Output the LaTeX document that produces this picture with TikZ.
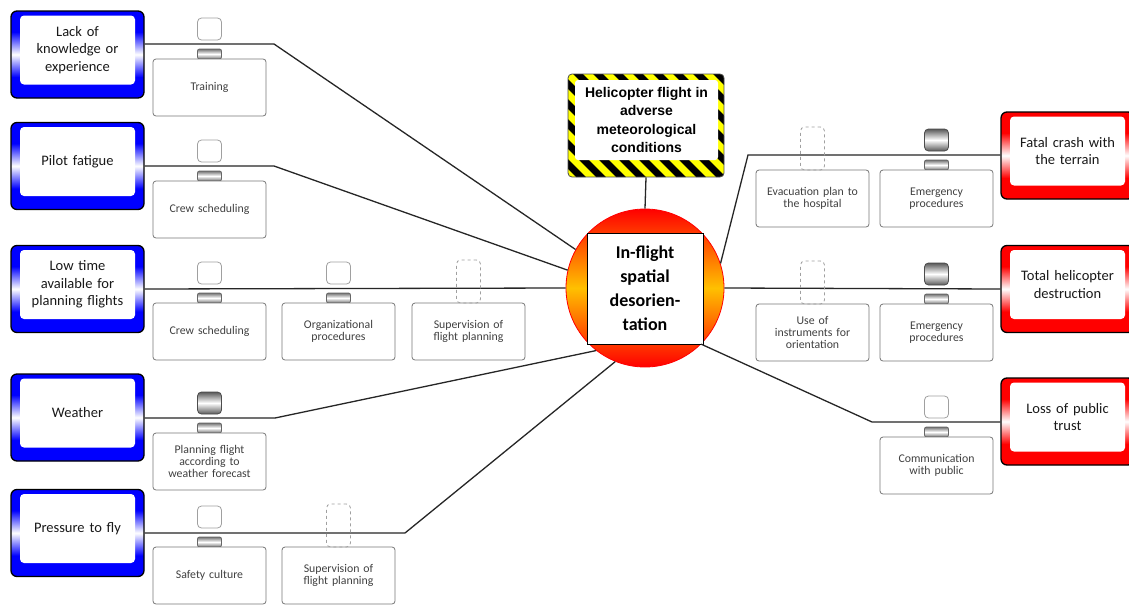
\documentclass[tikz,border=0pt]{standalone}
\usepackage{fontspec}
\setmainfont{Carlito}
\newfontfamily\hazfont{Liberation Sans}
\usetikzlibrary{calc}
\definecolor{thrblue}{RGB}{0,0,255}
\definecolor{conred}{RGB}{255,0,0}
\definecolor{hazyel}{RGB}{255,255,0}
\definecolor{ctrorange}{RGB}{255,192,0}
\definecolor{bgray}{RGB}{120,120,120}
\definecolor{igray}{RGB}{160,160,160}
\definecolor{tgray}{RGB}{64,64,64}
\pgfdeclareverticalshading{bluefr}{100bp}{color(0bp)=(thrblue); color(25bp)=(thrblue); color(37bp)=(thrblue); color(50bp)=(white); color(63bp)=(thrblue); color(75bp)=(thrblue); color(100bp)=(thrblue)}
\pgfdeclareverticalshading{redfr}{100bp}{color(0bp)=(conred); color(25bp)=(conred); color(37bp)=(conred); color(50bp)=(white); color(63bp)=(conred); color(75bp)=(conred); color(100bp)=(conred)}
\tikzset{
 link/.style={draw=black!85, line width=1.3pt},
 outerbox/.style={draw=black, line width=1.3pt, rounded corners=6pt, minimum width=133pt, minimum height=87pt, inner sep=0pt},
 innerbox/.style={fill=white, rounded corners=4pt, minimum width=115pt, minimum height=69pt, align=center, text width=112pt, inner sep=0pt, font=\fontsize{14.5}{17.5}\selectfont, text=black!90},
 barbox/.style={draw=bgray, fill=white, line width=0.8pt, rounded corners=3pt, minimum width=113pt, minimum height=57pt, align=center, inner sep=0pt, text width=110pt, text=tgray, font=\fontsize{11.8}{12}\selectfont},
 indw/.style={draw=igray, fill=white, line width=0.8pt, rounded corners=4pt, minimum width=24pt, minimum height=22pt, inner sep=0pt},
 indd/.style={draw=black!70, line width=0.8pt, rounded corners=4pt, minimum width=24pt, minimum height=22pt, inner sep=0pt, top color=black!65, bottom color=black!65, middle color=white},
 indx/.style={draw=igray, dashed, line width=0.8pt, rounded corners=4pt, minimum width=24pt, minimum height=43pt, inner sep=0pt},
 handle/.style={draw=black!60, line width=0.8pt, rounded corners=2pt, minimum width=24pt, minimum height=10pt, inner sep=0pt, top color=black!55, bottom color=black!55, middle color=white},
 centre/.style={circle, draw=red, line width=0.8pt, minimum size=158pt, inner sep=0pt, top color=conred, bottom color=conred, middle color=ctrorange},
 centrein/.style={draw=black, fill=white, line width=0.8pt, minimum width=116pt, minimum height=111pt, inner sep=0pt, align=center, font=\fontsize{18}{24}\selectfont\bfseries},
 hazout/.style={draw=black!70, line width=0.8pt, rounded corners=4pt, minimum width=156pt, minimum height=103pt, inner sep=0pt},
 hazin/.style={fill=white, rounded corners=3pt, minimum width=143pt, minimum height=80pt, inner sep=0pt, align=center, font=\hazfont\bfseries\fontsize{14}{18.3}\selectfont},
}
\newcommand{\riskbox}[5]{%
  \node[outerbox, shading=#4] (#1) at (#2,#3) {};
  \node[innerbox] (#1i) at ([yshift=4.5pt]#1.center) {#5};
}
\newcommand{\barw}[4]{%
  \node[indw] (#1t) at ({#2},{#3-15}) {};
  \node[handle] (#1h) at ({#2},{#3+10}) {};
  \node[barbox] (#1) at ({#2},{#3+43.5}) {#4};
}
\newcommand{\bard}[4]{%
  \node[indd] (#1t) at ({#2},{#3-15}) {};
  \node[handle] (#1h) at ({#2},{#3+10}) {};
  \node[barbox] (#1) at ({#2},{#3+43.5}) {#4};
}
\newcommand{\barx}[4]{%
  \node[barbox] (#1) at ({#2},{#3+43.5}) {#4};
  \node[indx] (#1t) at ({#2},{#3-6.5}) {};
}
\begin{document}
\begin{tikzpicture}[x=1pt,y=-1pt]
\useasboundingbox (0,0) rectangle (1129,605);
\clip (0,0) rectangle (1129,605);
\fill[white] (0,0) rectangle (1129,605);

% threats
\riskbox{T1}{77.5}{54.5}{bluefr}{Lack of\\knowledge or\\experience}
\riskbox{T2}{77.5}{166}{bluefr}{Pilot fatigue}
\riskbox{T3}{77.5}{289}{bluefr}{Low time\\available for\\planning flights}
\riskbox{T4}{77.5}{417.5}{bluefr}{Weather}
\riskbox{T5}{77.5}{533}{bluefr}{Pressure to fly}
% consequences
\riskbox{C1}{1067.5}{155.5}{redfr}{Fatal crash with\\the terrain}
\riskbox{C2}{1067.5}{289}{redfr}{Total helicopter\\destruction}
\riskbox{C3}{1067.5}{421.5}{redfr}{Loss of public\\trust}

% hazard
\begin{scope}
 \clip[rounded corners=4pt] (568,74) rectangle (724,177);
 \fill[hazyel] (568,74) rectangle (724,177);
 \foreach \k in {0,...,16} \draw[line width=7pt] ({448+20*\k},64) -- ++(130,130);
\end{scope}
\node[hazout] (H) at (646,125.5) {};
\node[hazin] (Hi) at (646.5,120) {Helicopter flight in\\adverse\\meteorological\\conditions};

% top event
\node[centre] (E) at (645,288) {};
\node[centrein] (Ei) at (645,288.5) {In-flight\\spatial\\desorien-\\tation};

% coordinates of bends
\coordinate (k1) at (274,44);
\coordinate (k2) at (274,166);
\coordinate (k4) at (275,418);
\coordinate (k5) at (405,533);
\coordinate (k6) at (748,155);
\coordinate (k7) at (872,422);

% connectors
\draw[link] (T1.east |- k1) -- (k1) -- (E.151.5);
\draw[link] (T2.east) -- (k2) -- (E.167);
\draw[link] (T3.east) -- (E.west);
\draw[link] (T4.east |- k4) -- (k4) -- (E.232);
\draw[link] (T5.east) -- (k5) -- (E.248);
\draw[link] (E.18) -- (k6) -- (C1.west |- k6);
\draw[link] (E.east) -- (C2.west);
\draw[link] (E.315) -- (k7) -- (C3.west |- k7);
\draw[link] (H.south) -- (E.north);

% barriers
\barw{B11}{209.5}{44}{Training}
\barw{B21}{209.5}{166}{Crew scheduling}
\barw{B31}{209.5}{288}{Crew scheduling}
\barw{B32}{338.5}{288}{Organizational\\procedures}
\barx{B33}{468.5}{288}{Supervision of\\flight planning}
\bard{B41}{209.5}{418}{Planning flight\\according to\\weather forecast}
\barw{B51}{209.5}{532}{Safety culture}
\barx{B52}{338.5}{532}{Supervision of\\flight planning}
\barx{R11}{812.5}{155}{Evacuation plan to\\the hospital}
\bard{R12}{936.5}{155}{Emergency\\procedures}
\barx{R21}{812.5}{289}{Use of\\instruments for\\orientation}
\bard{R22}{936.5}{289}{Emergency\\procedures}
\barw{R31}{936.5}{422}{Communication\\with public}
\end{tikzpicture}
\end{document}
